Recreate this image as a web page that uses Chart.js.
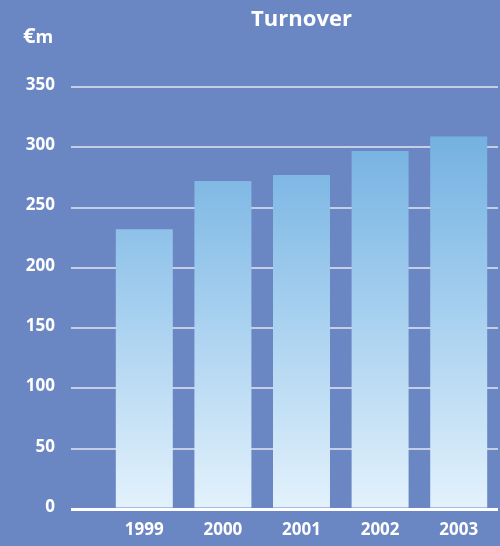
<!DOCTYPE html>
<html>
<head>
<meta charset="utf-8">
<script src="https://cdn.jsdelivr.net/npm/chart.js@4/dist/chart.umd.min.js"></script>
<style>
    html, body { margin: 0; padding: 0; background: #6b87c3; }
    canvas { display: block; }
</style>
</head>
<body>
<canvas id="turnoverChart" width="500" height="546"></canvas>
<script>
const years = ['1999', '2000', '2001', '2002', '2003'];
const turnover = [232, 272, 277, 297, 309];
const yTicks = [0, 50, 100, 150, 200, 250, 300, 350];
const chartTitle = 'Turnover';
const unitLabel = ['€', 'm'];

const white = '#ffffff';
const gridColor = 'rgba(255, 255, 255, 0.6)';

// title and unit drawn over the chart area, not centred on the canvas
const headerText = {
    id: 'headerText',
    afterDraw(chart) {
        const ctx = chart.ctx;
        const area = chart.chartArea;
        ctx.save();
        ctx.fillStyle = white;
        ctx.textBaseline = 'alphabetic';
        ctx.textAlign = 'center';
        ctx.font = 'bold 22px "Open Sans"';
        ctx.fillText(chartTitle, (area.left + area.right) / 2, 26);

        ctx.textAlign = 'left';
        ctx.font = 'bold 22px "Open Sans"';
        ctx.fillText(unitLabel[0], 23, 43);
        const w = ctx.measureText(unitLabel[0]).width;
        ctx.font = 'bold 18px "Open Sans"';
        ctx.fillText(unitLabel[1], 23 + w, 43);
        ctx.restore();
    }
};

function barGradient(context) {
    const chart = context.chart;
    const area = chart.chartArea;
    if (!area) {
        return '#9fcbee';
    }
    const g = chart.ctx.createLinearGradient(0, area.top, 0, area.bottom);
    g.addColorStop(0, '#66a9dd');
    g.addColorStop(0.5, '#a2cdee');
    g.addColorStop(1, '#e3f2fc');
    return g;
}

Chart.defaults.font.family = '"Open Sans", sans-serif';
Chart.defaults.font.weight = 'bold';
Chart.defaults.font.size = 17;
Chart.defaults.color = white;

const ctx = document.getElementById('turnoverChart').getContext('2d');
const turnoverChart = new Chart(ctx, {
    type: 'bar',
    data: {
        labels: years,
        datasets: [{
            label: chartTitle,
            data: turnover,
            backgroundColor: barGradient,
            borderWidth: 0,
            categoryPercentage: 1,
            barPercentage: 0.725
        }]
    },
    options: {
        responsive: false,
        devicePixelRatio: 1,
        animation: false,
        layout: {
            padding: { top: 87, right: 2, left: 0, bottom: 0 }
        },
        plugins: {
            legend: { display: false },
            title: { display: false },
            tooltip: { enabled: false }
        },
        scales: {
            x: {
                grid: { display: false, drawTicks: false },
                border: { display: false },
                ticks: { padding: 11, color: white },
                afterFit(scale) {
                    scale.height = 37;
                }
            },
            y: {
                min: 0,
                max: 350,
                afterBuildTicks(scale) {
                    scale.ticks = yTicks.map(v => ({ value: v }));
                },
                grid: {
                    color: c => (c.tick && c.tick.value === 0 ? white : gridColor),
                    lineWidth: c => (c.tick && c.tick.value === 0 ? 3 : 2),
                    tickLength: 34
                },
                border: { display: false },
                ticks: { padding: 16, labelOffset: -2, color: white },
                afterFit(scale) {
                    scale.width = 105;
                }
            }
        }
    },
    plugins: [headerText]
});
</script>
</body>
</html>
